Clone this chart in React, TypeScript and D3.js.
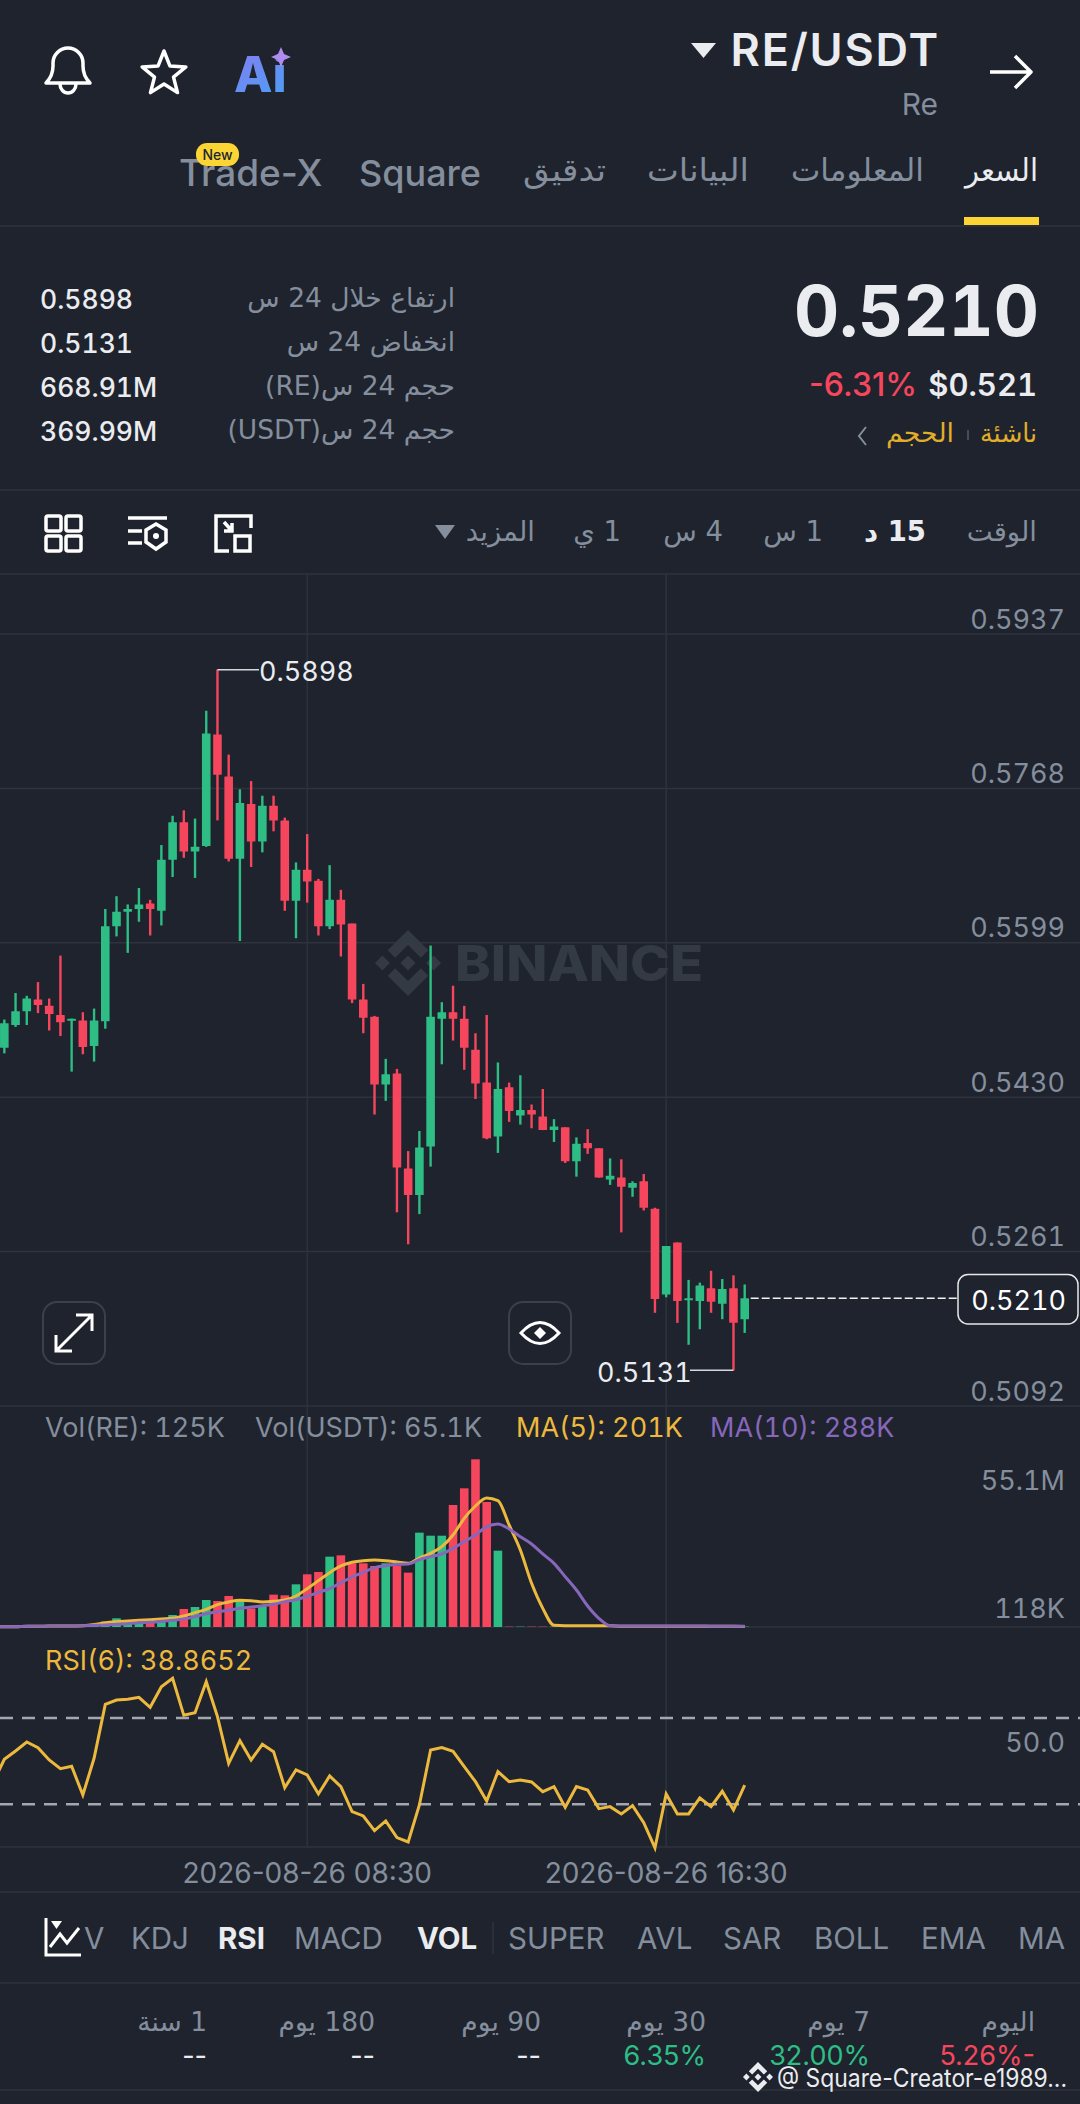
import React from 'react';
import * as d3 from 'd3';

// candle values
const opens = [0.5484,0.5509,0.5524,0.5537,0.5530,0.5520,0.5514,0.5514,0.5486,0.5513,0.5617,0.5633,0.5636,0.5642,0.5634,0.5690,0.5731,0.5699,0.5705,0.5827,0.5781,0.5691,0.5751,0.5710,0.5749,0.5733,0.5645,0.5679,0.5667,0.5617,0.5646,0.5620,0.5537,0.5518,0.5444,0.5456,0.5352,0.5323,0.5376,0.5516,0.5523,0.5516,0.5482,0.5446,0.5387,0.5441,0.5410,0.5416,0.5409,0.5394,0.5397,0.5360,0.5380,0.5374,0.5340,0.5342,0.5331,0.5338,0.5308,0.5214,0.5271,0.5208,0.5207,0.5221,0.5204,0.5221,0.5187];
const closes = [0.5511,0.5524,0.5538,0.5531,0.5521,0.5512,0.5516,0.5485,0.5514,0.5617,0.5633,0.5636,0.5641,0.5636,0.5690,0.5731,0.5699,0.5704,0.5828,0.5783,0.5691,0.5752,0.5710,0.5749,0.5733,0.5645,0.5679,0.5666,0.5617,0.5646,0.5619,0.5537,0.5517,0.5444,0.5455,0.5353,0.5323,0.5375,0.5518,0.5523,0.5516,0.5484,0.5445,0.5385,0.5439,0.5415,0.5416,0.5411,0.5394,0.5398,0.5360,0.5379,0.5374,0.5342,0.5344,0.5332,0.5336,0.5309,0.5209,0.5267,0.5207,0.5210,0.5224,0.5206,0.5220,0.5183,0.5210];
const highs = [0.5515,0.5544,0.5541,0.5556,0.5538,0.5585,0.5516,0.5523,0.5527,0.5636,0.5650,0.5641,0.5659,0.5646,0.5706,0.5738,0.5744,0.5735,0.5853,0.5898,0.5805,0.5767,0.5776,0.5760,0.5760,0.5736,0.5687,0.5718,0.5669,0.5684,0.5657,0.5620,0.5554,0.5519,0.5472,0.5461,0.5371,0.5393,0.5596,0.5534,0.5552,0.5530,0.5500,0.5520,0.5468,0.5446,0.5454,0.5422,0.5439,0.5406,0.5397,0.5386,0.5395,0.5374,0.5363,0.5362,0.5338,0.5346,0.5309,0.5267,0.5271,0.5230,0.5227,0.5240,0.5231,0.5235,0.5225];
const lows = [0.5478,0.5507,0.5509,0.5522,0.5503,0.5497,0.5458,0.5477,0.5469,0.5505,0.5606,0.5588,0.5622,0.5607,0.5618,0.5671,0.5692,0.5670,0.5704,0.5733,0.5688,0.5601,0.5682,0.5698,0.5721,0.5634,0.5604,0.5643,0.5607,0.5614,0.5584,0.5533,0.5500,0.5411,0.5426,0.5304,0.5269,0.5302,0.5354,0.5466,0.5492,0.5460,0.5428,0.5384,0.5369,0.5403,0.5400,0.5396,0.5394,0.5381,0.5358,0.5343,0.5368,0.5342,0.5334,0.5282,0.5321,0.5306,0.5194,0.5211,0.5183,0.5159,0.5176,0.5194,0.5187,0.5131,0.5172];

// volume in millions
const volumes = [0.1,0.1,0.15,0.2,0.2,0.25,0.3,0.3,0.4,1.75,2.85,1.75,1.42,1.42,1.75,3.94,5.92,6.57,8.87,8.54,10.19,8.54,6.13,7.23,10.63,10.41,14.02,17.31,18.07,23.11,23.55,20.92,20.92,20.05,20.92,20.16,17.86,31.0,30.0,30.0,40.09,45.57,55.1,41.08,25.08,0.12,0.12,0.12,0.12,0.12,0.12,0.12,0.12,0.12,0.12,0.12,0.12,0.12,0.12,0.12,0.12,0.12,0.12,0.12,0.12,0.12,0.12];
// the lines start one candle left of the frame, so these hold one extra leading value
const ma5 = [0.11,0.11,0.11,0.22,0.22,0.33,0.33,0.33,0.44,0.8,1.42,1.75,1.97,2.19,2.41,2.63,2.85,3.61,4.71,5.81,7.34,8.22,8.76,8.65,8.22,8.43,8.87,10.19,12.6,15.23,17.86,20.05,21.25,21.8,22.02,21.8,21.36,20.92,22.67,24.21,26.4,30.23,35.71,39.76,42.39,41.52,33.52,25.3,14.35,6.13,0.55,0.4,0.4,0.4,0.4,0.4,0.22,0.22,0.22,0.22,0.22,0.22,0.22,0.22,0.22,0.22,0.22,0.2];
const ma10 = [0.11,0.11,0.11,0.22,0.22,0.33,0.33,0.33,0.44,0.55,0.66,0.88,1.1,1.42,1.53,1.86,2.19,2.63,3.4,4.38,5.04,5.48,6.13,6.57,7.01,7.45,8.33,8.98,10.08,11.39,12.6,14.57,16.43,17.96,19.5,20.16,20.59,20.7,22.13,23.11,23.99,25.85,28.04,30.23,32.97,33.85,32.2,29.69,27.28,23.99,20.92,16.54,12.16,6.9,2.85,0.44,0.33,0.33,0.33,0.33,0.3,0.3,0.3,0.3,0.28,0.28,0.25,0.25];
const rsi = [40.04,50.85,54.71,58.88,56.26,50.54,46.53,47.61,34.32,51.32,76.34,78.35,78.65,79.58,74.95,84.52,88.39,71.24,72.48,86.84,70.62,49.0,59.5,50.54,57.8,54.4,37.72,45.91,43.59,34.79,43.13,38.19,26.6,24.59,17.8,22.28,14.55,12.55,29.69,55.18,56.26,54.56,47.45,40.5,31.54,45.14,40.5,41.28,40.35,35.87,38.19,28.61,38.19,36.64,27.99,28.92,25.52,29.38,21.5,9.77,34.79,25.52,25.52,32.93,28.92,36.02,27.37,38.87];

const priceTicks = [0.5937, 0.5768, 0.5599, 0.5430, 0.5261, 0.5092];
const rsiGuides = [70, 30];
const timeTicks = [{ i: 27, label: '2026-08-26 08:30' }, { i: 59, label: '2026-08-26 16:30' }];
const lastPrice = 0.521;

const stats = [
  { label: 'ارتفاع خلال 24 س', value: '0.5898', y: 309 },
  { label: 'انخفاض 24 س', value: '0.5131', y: 353 },
  { label: 'حجم 24 س(RE)', value: '668.91M', y: 397 },
  { label: 'حجم 24 س(USDT)', value: '369.99M', y: 441 },
];
const topTabs = [
  { t: 'السعر', x: 1038, w: 73, on: true },
  { t: 'المعلومات', x: 924, w: 133 },
  { t: 'البيانات', x: 749, w: 102 },
  { t: 'تدقيق', x: 606, w: 83 },
];
const intervals = [
  { t: 'الوقت', x: 1037 },
  { t: '15 د', x: 926, on: true },
  { t: '1 س', x: 823 },
  { t: '4 س', x: 723 },
  { t: '1 ي', x: 621 },
  { t: 'المزيد', x: 535 },
];
const indicators = [
  { t: 'MA', x: 1018 }, { t: 'EMA', x: 921 }, { t: 'BOLL', x: 814 }, { t: 'SAR', x: 723 }, { t: 'AVL', x: 637 },
  { t: 'SUPER', x: 508 }, { t: 'VOL', x: 417, on: true }, { t: 'MACD', x: 294 }, { t: 'RSI', x: 218, on: true }, { t: 'KDJ', x: 131 }, { t: 'V', x: 84 },
];
const periods = [
  { t: 'اليوم', v: '5.26%-', x: 1035, c: '#f6465d' },
  { t: '7 يوم', v: '32.00%', x: 870, c: '#2ebd85' },
  { t: '30 يوم', v: '6.35%', x: 706, c: '#2ebd85' },
  { t: '90 يوم', v: '--', x: 541, c: '#eaecef' },
  { t: '180 يوم', v: '--', x: 375, c: '#eaecef' },
  { t: '1 سنة', v: '--', x: 207, c: '#eaecef' },
];

const BG = '#1e232d';
const GRID = '#2e333c';
const GREY = '#848e9c';
const WHITE = '#eaecef';
const UP = '#2ebd85';
const DOWN = '#f6465d';
const YELLOW = '#ecb93e';
const PURPLE = '#8767bb';
const LATIN = 'Inter, Roboto, sans-serif';
const ARABIC = '"DejaVu Sans", sans-serif';

const x = d3.scaleLinear().domain([0, 66]).range([4.33, 744.7]);
const yPrice = d3.scaleLinear().domain([0.5092, 0.5937]).range([1406, 634]);
const yVol = d3.scaleLinear().domain([0, 55.1]).range([1627, 1459.3]);
const yRsi = d3.scaleLinear().domain([30, 70]).range([1804.3, 1718]);

const volLine = d3.line<number>().x((_, i) => x(i - 1)).y(d => yVol(d)).curve(d3.curveMonotoneX);
const rsiLine = d3.line<number>().x((_, i) => x(i - 1)).y(d => yRsi(d));

const Ar = ({ x, y, size = 27.5, fill = GREY, weight = 400, w, children }: any) => (
  <text x={x} y={y} direction="rtl" fontFamily={ARABIC} fontSize={size} fill={fill} fontWeight={weight}
    textLength={w} lengthAdjust={w ? 'spacingAndGlyphs' : undefined}>{children}</text>
);
// mono: tabular digits, which the app uses for prices
const T = ({ x, y, size = 27, fill = GREY, weight = 400, anchor = 'start', spacing, w, mono = true, children }: any) => (
  <text x={x} y={y} textAnchor={anchor} fontFamily={LATIN} fontSize={size} fill={fill} fontWeight={weight}
    letterSpacing={spacing} textLength={w} lengthAdjust={w ? 'spacingAndGlyphs' : undefined}
    style={mono ? { fontVariantNumeric: 'tabular-nums' } : undefined}>{children}</text>
);

const Logo = ({ cx, cy, size, fill }: any) => (
  <g transform={`translate(${cx - size / 2},${cy - size / 2}) scale(${size / 126.61})`} fill={fill}>
    <path d="m38.73 53.2 24.59-24.58 24.6 24.6 14.3-14.31L63.32 0 24.43 38.9z" />
    <path d="m0 63.31 14.3-14.31 14.31 14.31-14.31 14.3z" />
    <path d="m38.73 73.41 24.59 24.59 24.6-24.6 14.31 14.29-38.9 38.91-38.91-38.88z" />
    <path d="m98 63.31 14.3-14.31 14.31 14.3-14.31 14.32z" />
    <path d="m77.83 63.3-14.51-14.52-14.52 14.52 14.52 14.5z" />
  </g>
);

const starPoints = d3.range(10).map(k => {
  const r = k % 2 ? 10 : 23;
  const a = (k * Math.PI) / 5;
  return `${164 + r * Math.sin(a)},${74 - r * Math.cos(a)}`;
}).join(' ');

export default function App() {
  return (
    <div style={{ position: 'absolute', left: 0, top: 0, width: 1080, height: 2104 }}>
      <svg width={1080} height={2104} style={{ display: 'block', background: BG }}>
        <defs>
          <linearGradient id="aiGrad" x1="0" y1="0" x2="0.6" y2="1">
            <stop offset="0" stopColor="#8a7bf0" />
            <stop offset="1" stopColor="#4f9cf5" />
          </linearGradient>
        </defs>

        {/* header */}
        <g fill="none" stroke="#fff" strokeWidth={3.5} strokeLinejoin="round">
          <path d="M46 83 Q53 76 53 66 V63 a15 15 0 0 1 30 0 V66 Q83 76 90 83 Z" />
          <path d="M60 84 a8 9 0 0 0 16 0" />
          <polygon points={starPoints} />
          <path d="M990 72 H1030 M1015 56 L1031 72 L1015 88" />
        </g>
        <text x={234} y={92} fontFamily={LATIN} fontWeight={800} fontSize={50} fill="url(#aiGrad)">Ai</text>
        <path d="M281 47 l3 7 7 3 -7 3 -3 7 -3 -7 -7 -3 7 -3z" fill="#b08cf0" />
        <path d="M691 43 H716 L703.5 58 Z" fill={WHITE} />
        <T x={940} y={66} size={45} fill={WHITE} weight={600} anchor="end" spacing={1.8}>RE/USDT</T>
        <T x={938} y={115} size={30} anchor="end">Re</T>

        {topTabs.map(d => <Ar key={d.t} x={d.x} y={181} size={31} w={d.w} fill={d.on ? WHITE : GREY}>{d.t}</Ar>)}
        <T x={359} y={186} size={36} weight={500}>Square</T>
        <T x={179} y={186} size={37} weight={500} mono={false}>Trade-X</T>
        <rect x={196} y={143} width={43} height={23} rx={11} fill="#fcd535" />
        <T x={217.5} y={160} size={14} fill="#202630" weight={500} anchor="middle">New</T>
        <rect x={964} y={217} width={75} height={8} fill="#fcd535" />
        <line x1={0} x2={1080} y1={226} y2={226} stroke={GRID} strokeWidth={1.5} />

        {/* stats */}
        <T x={1039} y={336} size={70} fill={WHITE} weight={700} anchor="end">0.5210</T>
        <T x={917} y={396} size={32} fill={DOWN} weight={500} anchor="end" mono={false}>-6.31%</T>
        <T x={1037} y={396} size={31} fill={WHITE} weight={600} anchor="end">$0.521</T>
        <Ar x={1037} y={442} size={26} w={57} fill="#e0ae2a">ناشئة</Ar>
        <Ar x={954} y={442} size={26} w={68} fill="#e0ae2a">الحجم</Ar>
        <line x1={968} x2={968} y1={430} y2={440} stroke="#474d57" strokeWidth={2} />
        <path d="M866 427 L859 436 L866 445" fill="none" stroke={GREY} strokeWidth={2} />
        {stats.map(d => (
          <g key={d.value}>
            <T x={40} y={d.y} size={26.5} fill={WHITE} weight={500}>{d.value}</T>
            <Ar x={455} y={d.y - 2} size={26.5}>{d.label}</Ar>
          </g>
        ))}
        <line x1={0} x2={1080} y1={490} y2={490} stroke={GRID} strokeWidth={1.5} />

        {/* toolbar */}
        <g fill="none" stroke="#fff" strokeWidth={3.5}>
          <rect x={46} y={516} width={15} height={15} rx={2} />
          <rect x={66} y={516} width={15} height={15} rx={2} />
          <rect x={46} y={536} width={15} height={15} rx={2} />
          <rect x={66} y={536} width={15} height={15} rx={2} />
          <path d="M128 518 H167 M128 531 H142 M128 543 H142" />
          <path d="M156 524 L166 530 V542 L156 549 L146 542 V530 Z" />
          <path d="M232 516 H216 V551 H229 M232 516 H251 V528 M224 522 L232 531 M232 523 V531 H224" />
          <rect x={235} y={536} width={15} height={15} />
        </g>
        <circle cx={156} cy={536} r={3} fill="#fff" />
        {intervals.map(d => <Ar key={d.t} x={d.x} y={541} size={27.5} fill={d.on ? WHITE : GREY} weight={d.on ? 700 : 400}>{d.t}</Ar>)}
        <path d="M435 525 H455 L445 539 Z" fill={GREY} />
        <line x1={0} x2={1080} y1={574} y2={574} stroke={GRID} strokeWidth={1.5} />

        {/* grid */}
        {priceTicks.map(p => (
          <g key={p}>
            <line x1={0} x2={1080} y1={yPrice(p)} y2={yPrice(p)} stroke={GRID} strokeWidth={1.5} />
            <T x={1065} y={yPrice(p) - 5.5} anchor="end">{p.toFixed(4)}</T>
          </g>
        ))}
        {timeTicks.map(d => (
          <g key={d.i}>
            <line x1={x(d.i)} x2={x(d.i)} y1={574} y2={1847} stroke={GRID} strokeWidth={1.5} />
            <T x={x(d.i)} y={1883} size={28} anchor="middle" mono={false}>{d.label}</T>
          </g>
        ))}

        {/* watermark */}
        <Logo cx={408} cy={963} size={66} fill="#343a44" />
        <text x={455} y={981} fontFamily={LATIN} fontWeight={800} fontSize={50} fill="#343a44" textLength={248} lengthAdjust="spacingAndGlyphs">BINANCE</text>

        {/* candles */}
        {opens.map((o, i) => {
          const c = closes[i];
          const col = c >= o ? UP : DOWN;
          const top = yPrice(Math.max(o, c));
          const bot = yPrice(Math.min(o, c));
          return (
            <g key={i}>
              <line x1={x(i)} x2={x(i)} y1={yPrice(highs[i])} y2={yPrice(lows[i])} stroke={col} strokeWidth={2.4} />
              <rect x={x(i) - 4.3} width={8.6} y={top} height={Math.max(bot - top, 2)} fill={col} rx={0.5} />
            </g>
          );
        })}

        {/* high / low callouts */}
        <path d={`M${x(19)} ${yPrice(0.5898)} H259`} stroke="#d5d8dc" strokeWidth={1.5} fill="none" />
        <T x={259} y={680.5} fill={WHITE}>0.5898</T>
        <path d={`M${x(65)} ${yPrice(0.5131)} H690`} stroke="#d5d8dc" strokeWidth={1.5} fill="none" />
        <T x={597} y={1382} fill={WHITE}>0.5131</T>

        {/* last price */}
        <line x1={x(66) + 6} x2={958} y1={yPrice(lastPrice)} y2={yPrice(lastPrice)} stroke="#f2f2f2" strokeWidth={1.5} strokeDasharray="8 3" />
        <rect x={958} y={1274.5} width={120} height={49.5} rx={10} fill={BG} stroke="#e8e8e8" strokeWidth={1.5} />
        <T x={1066} y={1310} fill="#fff" anchor="end">{lastPrice.toFixed(4)}</T>

        {/* floating buttons */}
        <g fill="none" stroke="#3b4049" strokeWidth={2}>
          <rect x={43} y={1302} width={62} height={62} rx={14} />
          <rect x={509} y={1302} width={62} height={62} rx={14} />
        </g>
        <path d="M56 1351 L92 1315 M76 1315 H92 V1331 M56 1335 V1351 H72" fill="none" stroke="#fff" strokeWidth={3} />
        <path d="M521 1333 Q540 1312 559 1333 Q540 1354 521 1333 Z" fill="none" stroke="#fff" strokeWidth={3} />
        <path d="M540 1327 l6 6 -6 6 -6 -6z" fill="#fff" />

        {/* volume */}
        <T x={45} y={1437}>Vol(RE): 125K</T>
        <T x={255} y={1437}>Vol(USDT): 65.1K</T>
        <T x={516} y={1437} fill={YELLOW}>MA(5): 201K</T>
        <T x={710} y={1437} fill={PURPLE}>MA(10): 288K</T>
        <T x={1065} y={1490} anchor="end">55.1M</T>
        <T x={1065} y={1618} anchor="end">118K</T>
        <line x1={0} x2={1080} y1={1627} y2={1627} stroke={GRID} strokeWidth={1.5} />
        {volumes.map((v, i) => (
          <rect key={i} x={x(i) - 4.3} width={8.6} y={yVol(v)} height={yVol(0) - yVol(v)} fill={closes[i] >= opens[i] ? UP : DOWN} />
        ))}
        <path d={volLine(ma5) ?? ''} fill="none" stroke={YELLOW} strokeWidth={3} />
        <path d={volLine(ma10) ?? ''} fill="none" stroke={PURPLE} strokeWidth={3} />

        {/* rsi */}
        <T x={45} y={1670} fill={YELLOW}>RSI(6): 38.8652</T>
        <T x={1065} y={1752} anchor="end">50.0</T>
        <line x1={0} x2={1080} y1={1847} y2={1847} stroke={GRID} strokeWidth={1.5} />
        {rsiGuides.map(g => (
          <line key={g} x1={0} x2={1080} y1={yRsi(g)} y2={yRsi(g)} stroke="#a4a8ae" strokeWidth={2.5} strokeDasharray="13 9" />
        ))}
        <path d={rsiLine(rsi) ?? ''} fill="none" stroke={YELLOW} strokeWidth={3} />

        <line x1={0} x2={1080} y1={1892} y2={1892} stroke={GRID} strokeWidth={1.5} />

        {/* indicator row */}
        <g fill="none" stroke="#fff" strokeWidth={3}>
          <path d="M46 1918 V1955 H81" />
          <path d="M50 1947 L60 1934 L67 1943 L79 1928" />
        </g>
        <path d="M51 1921 H62 L56.5 1929 Z" fill="#fff" />
        {indicators.map(d => (
          <T key={d.t} x={d.x} y={1949} size={29.5} fill={d.on ? WHITE : GREY} weight={d.on ? 700 : 400}>{d.t}</T>
        ))}
        <line x1={493} x2={493} y1={1922} y2={1954} stroke={GRID} strokeWidth={1.5} />
        <line x1={0} x2={1080} y1={1983} y2={1983} stroke={GRID} strokeWidth={1.5} />

        {/* periods */}
        {periods.map(d => (
          <g key={d.t}>
            <Ar x={d.x} y={2031} size={26.5}>{d.t}</Ar>
            <T x={d.x} y={2065} size={27} fill={d.c} anchor="end" mono={false}>{d.v}</T>
          </g>
        ))}
        <line x1={0} x2={1080} y1={2090} y2={2090} stroke={GRID} strokeWidth={1.5} />
        <Logo cx={758} cy={2077} size={30} fill="#eaecef" />
        <T x={777} y={2087} size={25} fill="#eaecef" w={290} mono={false}>@ Square-Creator-e1989...</T>
      </svg>
    </div>
  );
}
